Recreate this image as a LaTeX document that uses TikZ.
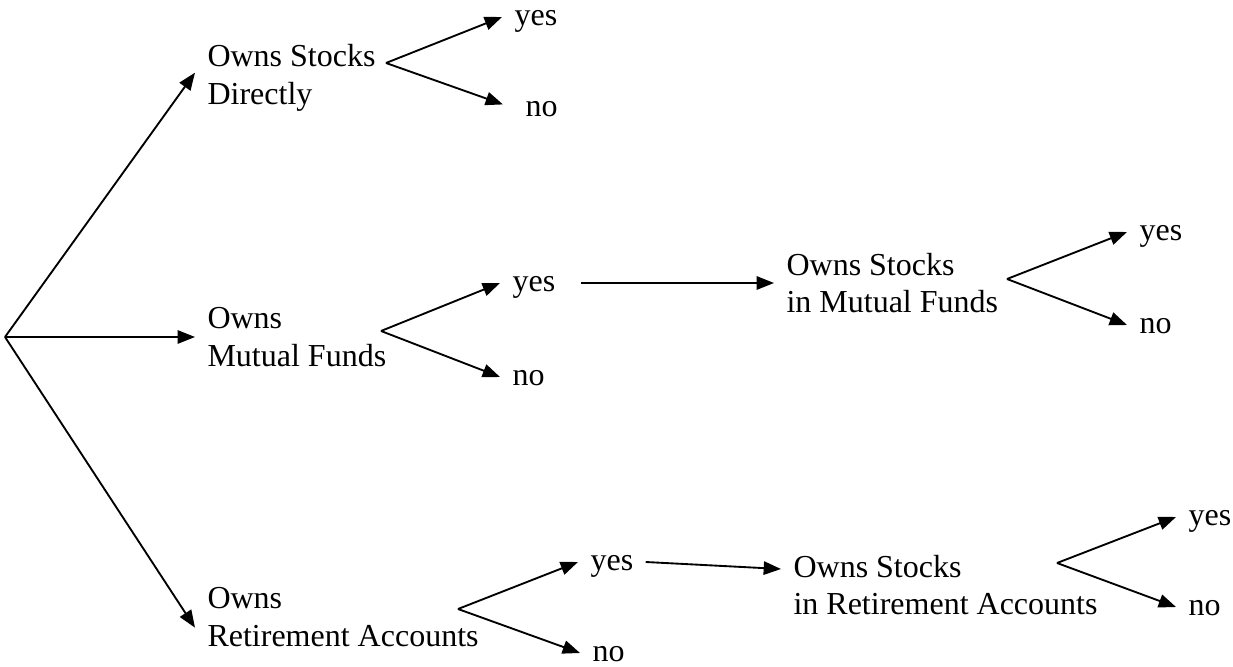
\documentclass[tikz,border=0pt]{standalone}
\usepackage{fontspec}
\setmainfont{Liberation Serif}
\usetikzlibrary{arrows.meta}

\begin{document}
\begin{tikzpicture}[x=1.318cm, y=1.318cm,
    arr/.style  = {line width=0.7pt, -{Triangle[length=6.5pt,width=5pt]}},
    lbl/.style  = {anchor=west, align=left, inner sep=4.5pt,
                   font=\fontsize{12}{14.2}\selectfont},
    leaf/.style = {anchor=west, inner xsep=4.5pt, inner ysep=0pt,
                   text height=9pt, text depth=2.4pt,
                   font=\fontsize{12}{14.2}\selectfont}]
  \useasboundingbox (0,0) rectangle (12.33,6.66);
  % root of the tree
  \coordinate (root) at (0.05,3.29);
  % first level
  \node[lbl] (direct) at (1.95,5.88) {Owns Stocks\\Directly};
  \node[lbl] (mutual) at (1.95,3.29) {Owns\\Mutual Funds};
  \node[lbl] (retire) at (1.95,0.49) {Owns\\Retirement Accounts};
  \draw[arr] (root) -- ([yshift=2pt]direct.west);
  \draw[arr] (root) -- (mutual.west);
  \draw[arr] (root) -- ([yshift=-4pt]retire.west);
  % second level, yes / no
  \coordinate (fD) at (3.86,6.03);
  \coordinate (fM) at (3.81,3.35);
  \coordinate (fR) at (4.58,0.57);
  \node[leaf] (dyes) at (5.02,6.49) {yes};
  \node[leaf] (dno)  at (5.13,5.58) {no};
  \node[leaf] (myes) at (5.00,3.83) {yes};
  \node[leaf] (mno)  at (5.00,2.89) {no};
  \node[leaf] (ryes) at (5.78,1.04) {yes};
  \node[leaf] (rno)  at (5.80,0.13) {no};
  \draw[arr] (fD) -- (dyes.west);
  \draw[arr, shorten >=4pt] (fD) -- (dno.west);
  \draw[arr] (fM) -- (myes.west);
  \draw[arr] (fM) -- (mno.west);
  \draw[arr] (fR) -- (ryes.west);
  \draw[arr] (fR) -- (rno.west);
  % third level
  \node[lbl] (stockmf) at (7.74,3.83) {Owns Stocks\\in Mutual Funds};
  \node[lbl] (stockra) at (7.81,0.81) {Owns Stocks\\in Retirement Accounts};
  \draw[arr, shorten <=5pt] (myes.east) -- (stockmf.west);
  \draw[arr] (ryes.east) -- ([yshift=6pt]stockra.west);
  % last yes / no
  \coordinate (fMF) at (10.07,3.87);
  \coordinate (fRA) at (10.57,1.03);
  \node[leaf] (syes) at (11.27,4.34) {yes};
  \node[leaf] (sno)  at (11.27,3.41) {no};
  \node[leaf] (tyes) at (11.76,1.49) {yes};
  \node[leaf] (tno)  at (11.76,0.59) {no};
  \draw[arr] (fMF) -- (syes.west);
  \draw[arr] (fMF) -- (sno.west);
  \draw[arr] (fRA) -- (tyes.west);
  \draw[arr] (fRA) -- (tno.west);
\end{tikzpicture}
\end{document}
